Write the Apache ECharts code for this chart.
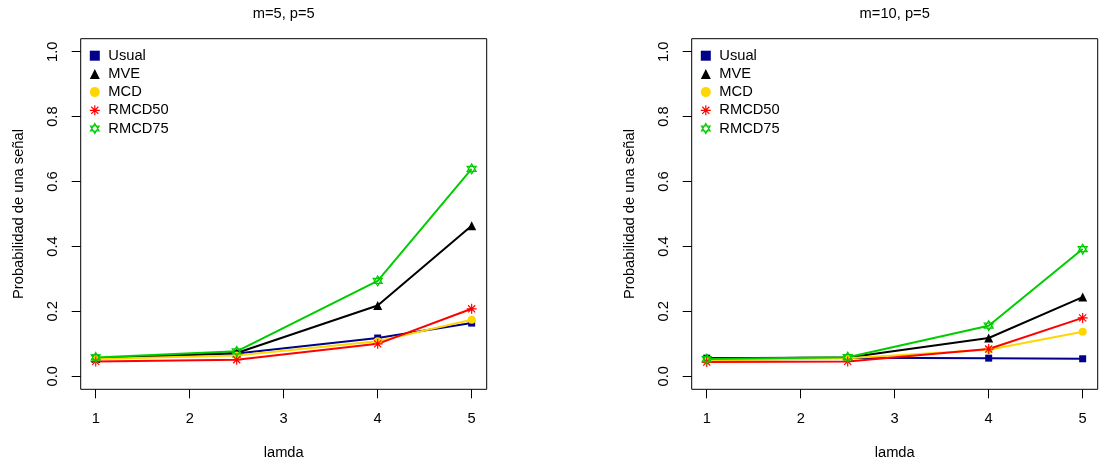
<!DOCTYPE html>
<html>
<head>
<meta charset="utf-8">
<script src="https://cdn.jsdelivr.net/npm/echarts@6/dist/echarts.min.js"></script>
<style>
  html, body { margin: 0; padding: 0; background: #fff; }
  #chart { width: 1101px; height: 466px; }
</style>
</head>
<body>
<div id="chart"></div>
<script>
// valores de lamda en el eje x
const lamda = [1, 2.5, 4, 5]
const xTicks = [1, 2, 3, 4, 5]
const yTicks = [0, 0.2, 0.4, 0.6, 0.8, 1.0]
const titles = ['m=5, p=5', 'm=10, p=5']
const names = ['Usual', 'MVE', 'MCD', 'RMCD50', 'RMCD75']

// m=5, p=5
const usualM5 = [0.056, 0.070, 0.118, 0.164]
const mveM5 = [0.056, 0.072, 0.218, 0.464]
const mcdM5 = [0.053, 0.064, 0.108, 0.174]
const rmcd50M5 = [0.046, 0.051, 0.100, 0.208]
const rmcd75M5 = [0.058, 0.077, 0.294, 0.639]

// m=10, p=5
const usualM10 = [0.056, 0.057, 0.056, 0.054]
const mveM10 = [0.056, 0.058, 0.118, 0.244]
const mcdM10 = [0.049, 0.056, 0.082, 0.137]
const rmcd50M10 = [0.044, 0.046, 0.084, 0.180]
const rmcd75M10 = [0.053, 0.059, 0.156, 0.392]

const FONT = 'Liberation Sans, Arial, sans-serif'
const FS = 14.7

const asterisk = 'path://M0,-10L0,10M-10,0L10,0M-7.07,-7.07L7.07,7.07M-7.07,7.07L7.07,-7.07'
const david = 'path://M0,-10L8.66,5L-8.66,5Z M0,10L8.66,-5L-8.66,-5Z'

// estilo de cada serie: color, simbolo, tamano
const styles = [
  { color: '#00008B', symbol: 'rect', size: 7, fill: '#00008B', bw: 0 },
  { color: '#000000', symbol: 'triangle', size: 9, fill: '#000000', bw: 0 },
  { color: '#FFD700', symbol: 'circle', size: 8, fill: '#FFD700', bw: 0 },
  { color: '#FF0000', symbol: asterisk, size: 10, fill: 'rgba(0,0,0,0)', bw: 1.2 },
  { color: '#00CD00', symbol: david, size: [9, 10], fill: 'rgba(0,0,0,0)', bw: 1.2 }
]

const panels = [
  [usualM5, mveM5, mcdM5, rmcd50M5, rmcd75M5],
  [usualM10, mveM10, mcdM10, rmcd50M10, rmcd75M10]
]

const gridLefts = [80.7, 691.7]
const gridWidth = 406

const chart = echarts.init(document.getElementById('chart'))

const grid = gridLefts.map(l => ({
  left: l, top: 38.7, width: gridWidth, height: 350.6,
  show: true, borderColor: '#000', borderWidth: 1, backgroundColor: 'transparent'
}))

const title = titles.map((t, i) => ({
  text: t,
  left: gridLefts[i] + gridWidth / 2,
  textAlign: 'center',
  top: 6.5,
  padding: 0,
  textStyle: { fontFamily: FONT, fontSize: FS, fontWeight: 'normal', color: '#000' }
}))

const xAxis = [0, 1].map(i => ({
  type: 'value', gridIndex: i, min: 0.84, max: 5.16,
  name: 'lamda', nameLocation: 'middle', nameGap: 56,
  nameTextStyle: { fontFamily: FONT, fontSize: FS, color: '#000' },
  splitLine: { show: false },
  axisLine: { show: false, onZero: false },
  axisTick: { show: true, inside: false, length: 9, customValues: xTicks, lineStyle: { color: '#000' } },
  axisLabel: { customValues: xTicks, margin: 22, fontFamily: FONT, fontSize: FS, color: '#000',
    formatter: v => String(v) }
}))

const yAxis = [0, 1].map(i => ({
  type: 'value', gridIndex: i, min: -0.04, max: 1.04,
  name: 'Probabilidad de una señal', nameLocation: 'middle', nameGap: 54,
  nameTextStyle: { fontFamily: FONT, fontSize: FS, color: '#000' },
  splitLine: { show: false },
  axisLine: { show: false, onZero: false },
  axisTick: { show: true, inside: false, length: 9, customValues: yTicks, lineStyle: { color: '#000' } },
  axisLabel: { customValues: yTicks, rotate: 90, margin: 20, fontFamily: FONT, fontSize: FS, color: '#000',
    formatter: v => v.toFixed(1) }
}))

// leyenda arriba a la izquierda, sin marco
const legend = [0, 1].map(i => ({
  orient: 'vertical',
  left: gridLefts[i] + 8.5,
  top: 48.2,
  padding: 0,
  itemWidth: 10,
  itemHeight: 10,
  itemGap: 3.2,
  selectedMode: false,
  textStyle: { fontFamily: FONT, fontSize: FS, color: '#000', lineHeight: 15, padding: [0, 0, 0, 3.5] },
  data: names.map((n, k) => ({
    name: n,
    icon: styles[k].symbol,
    itemStyle: { color: styles[k].fill, borderColor: styles[k].color, borderWidth: styles[k].bw }
  }))
}))

const series = []
panels.forEach((vals, i) => {
  vals.forEach((arr, k) => {
    const s = styles[k]
    series.push({
      name: names[k],
      type: 'line',
      xAxisIndex: i,
      yAxisIndex: i,
      data: lamda.map((x, j) => [x, arr[j]]),
      symbol: s.symbol,
      symbolSize: s.size,
      showSymbol: true,
      lineStyle: { color: s.color, width: 2 },
      itemStyle: { color: s.fill, borderColor: s.color, borderWidth: s.bw },
      emphasis: { disabled: true }
    })
  })
})

chart.setOption({
  animation: false,
  title: title,
  grid: grid,
  xAxis: xAxis,
  yAxis: yAxis,
  legend: legend,
  series: series
})
</script>
</body>
</html>
